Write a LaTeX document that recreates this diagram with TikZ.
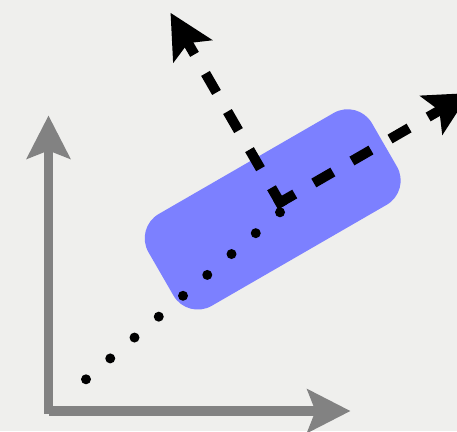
\documentclass[tikz,border=0pt]{standalone}
\usetikzlibrary{arrows.meta}
\definecolor{bgcol}{RGB}{239,239,237}
\definecolor{boxblue}{RGB}{124,128,255}
\definecolor{axisgray}{RGB}{130,130,130}
\begin{document}
\begin{tikzpicture}[x=1pt,y=-1pt,
  axisarrow/.style={draw=axisgray, line width=9.6pt, -{Stealth[length=43pt,width=43pt,inset=8pt]}},
  dashedarrow/.style={draw=black, line width=10pt, dash pattern=on 22pt off 22pt, -{Stealth[length=44pt,width=44pt,inset=9pt]}},
  dotline/.style={draw=black, line width=10pt, line cap=round, dash pattern=on 0pt off 32pt},
  blockbox/.style={rectangle, rounded corners=28pt, minimum width=258pt, minimum height=106pt, inner sep=0pt, fill=boxblue, rotate=30}]
\clip (0,0) rectangle (457,431);
\fill[bgcol] (0,0) rectangle (457,431);
% axes
\coordinate (yorig) at (48.5,413.5);
\coordinate (ytip) at (48.5,115.5);
\coordinate (xorig) at (48.5,411);
\coordinate (xtip) at (350.5,411);
\draw[axisarrow] (yorig) -- (ytip);
\draw[axisarrow] (xorig) -- (xtip);
% box
\node[blockbox] (box) at (272.7,209.4) {};
% dotted line
\coordinate (dotstart) at (86,379.3);
\coordinate (dotend) at (281.5,211.0);
\draw[dotline] (dotstart) -- (dotend);
% dashed local axes
\coordinate (upstart) at (282.5,206.8);
\coordinate (uptip) at (170.5,12.8);
\coordinate (rightstart) at (275.7,205.0);
\coordinate (righttip) at (469.7,93.0);
\draw[dashedarrow] (upstart) -- (uptip);
\draw[dashedarrow] (rightstart) -- (righttip);
\end{tikzpicture}
\end{document}
